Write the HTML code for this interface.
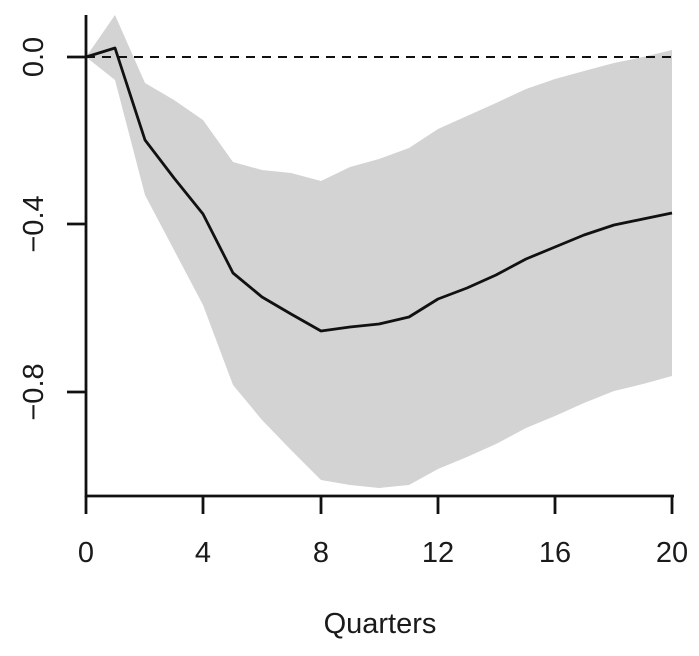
<!DOCTYPE html>
<html><head><meta charset="utf-8"><style>
html,body{margin:0;padding:0;background:#fff;}
text{font-family:"Liberation Sans",sans-serif;fill:#1a1a1a;}
</style></head><body>
<svg width="699" height="651" viewBox="0 0 699 651" xmlns="http://www.w3.org/2000/svg">
<defs><clipPath id="c"><rect x="86" y="14" width="600" height="482"/></clipPath></defs>
<g clip-path="url(#c)">
<polygon fill="#d3d3d3" points="86,57 115,15 145,83 174,100 203,120 233,162 262,170 291,173 321,181 350,167 379,159 409,148 438,129 467,116 496,103 526,89 555,79 584,71 614,63 643,57 672,50 672,376 643,384 614,391 584,403 555,416 526,428 496,444 467,457 438,469 409,485 379,488 350,485 321,480 291,450 262,420 233,385 203,305 174,250 145,195 115,80"/>
</g>
<line x1="86" y1="57" x2="672" y2="57" stroke="#111" stroke-width="2" stroke-dasharray="9,7"/>
<polyline fill="none" stroke="#111" stroke-width="2.8" stroke-linejoin="round" points="86,57 115,48 145,140 174,178 203,214 233,273 262,297 291,314 321,331 350,327 379,324 409,317 438,299 467,288 496,275 526,259 555,247 584,235 614,225 643,219 672,213"/>
<g stroke="#111" stroke-width="2.8" fill="none">
<line x1="86" y1="15" x2="86" y2="497"/>
<line x1="85" y1="496" x2="674" y2="496"/>
<line x1="67" y1="57" x2="86" y2="57"/>
<line x1="67" y1="224" x2="86" y2="224"/>
<line x1="67" y1="392" x2="86" y2="392"/>
<line x1="86" y1="496" x2="86" y2="514"/>
<line x1="203" y1="496" x2="203" y2="514"/>
<line x1="321" y1="496" x2="321" y2="514"/>
<line x1="438" y1="496" x2="438" y2="514"/>
<line x1="555" y1="496" x2="555" y2="514"/>
<line x1="672" y1="496" x2="672" y2="514"/>
</g>
<g font-size="29" text-anchor="middle">
<text x="86" y="562">0</text>
<text x="203" y="562">4</text>
<text x="321" y="562">8</text>
<text x="438" y="562">12</text>
<text x="555" y="562">16</text>
<text x="672" y="562">20</text>
<text x="380" y="633">Quarters</text>
<text transform="translate(43,57) rotate(-90)">0.0</text>
<text transform="translate(43,224) rotate(-90)">−0.4</text>
<text transform="translate(43,392) rotate(-90)">−0.8</text>
</g>
</svg>
</body></html>
